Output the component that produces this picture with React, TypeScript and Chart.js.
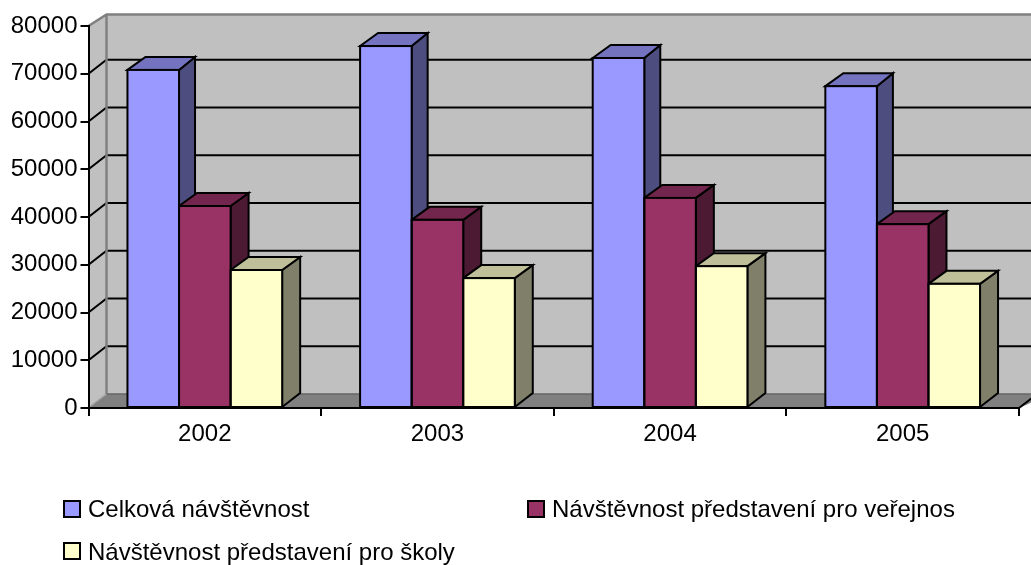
import React, { useEffect, useRef } from "react";
import { Chart, registerables } from "chart.js";

Chart.register(...registerables);

const categories = ["2002", "2003", "2004", "2005"];
const seriesNames = [
  "Celková návštěvnost",
  "Návštěvnost představení pro veřejnos",
  "Návštěvnost představení pro školy",
];
const celkova = [70800, 75800, 73300, 67400];
const verejnost = [42300, 39400, 44000, 38500];
const skoly = [28900, 27200, 29700, 26000];
const fronts = ["#9999FF", "#993366", "#FFFFCC"];
const tops = ["#7373BF", "#73264D", "#BFBF99"];
const sides = ["#4D4D80", "#4D1A33", "#80806A"];
const sideDepth = [16, 18, 18];

const FONT = '"Liberation Sans", Arial, sans-serif';
const DX = 18;
const DY = 14;

const polygon = (ctx: CanvasRenderingContext2D, pts: number[][], fill: string, stroke?: string, lw = 2) => {
  ctx.beginPath();
  pts.forEach(([x, y], i) => (i ? ctx.lineTo(x, y) : ctx.moveTo(x, y)));
  ctx.closePath();
  ctx.fillStyle = fill;
  ctx.fill();
  if (stroke) {
    ctx.strokeStyle = stroke;
    ctx.lineWidth = lw;
    ctx.lineJoin = "miter";
    ctx.stroke();
  }
};

const walls3d = {
  id: "walls3d",
  beforeDraw(chart: any) {
    const { ctx, chartArea: a, scales } = chart;
    const y = scales.y;
    const W = chart.width;
    const backL = a.left + DX;
    const backTop = a.top - 11.5;
    const backBottom = a.bottom - DY;
    ctx.save();
    // back wall
    polygon(ctx, [[backL, backTop], [W + 2, backTop], [W + 2, backBottom], [backL, backBottom]], "#C0C0C0");
    // side wall
    polygon(ctx, [[a.left, a.top], [backL, backTop], [backL, backBottom], [a.left, a.bottom]], "#C0C0C0");
    // gridlines
    ctx.strokeStyle = "#000";
    ctx.lineWidth = 2;
    for (const t of y.ticks) {
      if (t.value === 0 || t.value === y.max) continue;
      const p = y.getPixelForValue(t.value);
      ctx.beginPath();
      ctx.moveTo(a.left, p);
      ctx.lineTo(backL, p - DY);
      ctx.lineTo(W + 2, p - DY);
      ctx.stroke();
    }
    // floor
    polygon(ctx, [[a.left, a.bottom], [backL, backBottom], [W + 20, backBottom], [a.right, a.bottom]], "#808080");
    // wall edges
    ctx.strokeStyle = "#808080";
    ctx.lineWidth = 2.5;
    ctx.beginPath();
    ctx.moveTo(a.left, a.top);
    ctx.lineTo(backL, backTop);
    ctx.lineTo(W + 2, backTop);
    ctx.moveTo(backL, backTop);
    ctx.lineTo(backL, backBottom);
    ctx.stroke();
    ctx.strokeStyle = "#666666";
    ctx.lineWidth = 1.5;
    ctx.beginPath();
    ctx.moveTo(backL, backBottom);
    ctx.lineTo(W + 2, backBottom);
    ctx.stroke();
    ctx.strokeStyle = "#A0A0A0";
    ctx.lineWidth = 1.5;
    ctx.beginPath();
    ctx.moveTo(a.left + 1, a.bottom - 1);
    ctx.lineTo(backL, backBottom);
    ctx.stroke();
    // floor right edge
    ctx.strokeStyle = "#000";
    ctx.lineWidth = 2;
    ctx.beginPath();
    ctx.moveTo(a.right, a.bottom);
    ctx.lineTo(W + 2, a.bottom - (W + 2 - a.right) * (DY / DX));
    ctx.stroke();
    ctx.restore();
  },
  beforeDatasetsDraw(chart: any) {
    const { ctx } = chart;
    ctx.save();
    for (let c = 0; c < categories.length; c++) {
      chart.data.datasets.forEach((_: any, d: number) => {
        const el = chart.getDatasetMeta(d).data[c];
        const l = el.x - el.width / 2;
        const r = el.x + el.width / 2;
        const t = el.y;
        const b = el.base;
        const sd = sideDepth[d];
        polygon(ctx, [[r, t], [r + sd, t - DY + 1], [r + sd, b - DY], [r, b]], sides[d], "#000");
        polygon(ctx, [[l, t], [l + DX, t - DY + 1], [r + sd, t - DY + 1], [r, t]], tops[d], "#000");
      });
    }
    ctx.restore();
  },
  afterDatasetsDraw(chart: any) {
    const { ctx } = chart;
    ctx.save();
    ctx.strokeStyle = "#000";
    ctx.lineWidth = 2;
    chart.data.datasets.forEach((_: any, d: number) => {
      chart.getDatasetMeta(d).data.forEach((el: any) => {
        ctx.strokeRect(el.x - el.width / 2, el.y, el.width, el.base - el.y);
      });
    });
    ctx.restore();
  },
  afterDraw(chart: any) {
    const { ctx } = chart;
    const spots = [
      [64, 501, 88, 510],
      [528, 501, 552, 510],
      [64, 543, 88, 553],
    ];
    ctx.save();
    ctx.font = `24px ${FONT}`;
    ctx.textBaseline = "middle";
    ctx.textAlign = "left";
    chart.data.datasets.forEach((ds: any, d: number) => {
      const [bx, by, tx, ty] = spots[d];
      ctx.fillStyle = fronts[d];
      ctx.strokeStyle = "#000";
      ctx.lineWidth = 2;
      ctx.fillRect(bx, by, 16, 16);
      ctx.strokeRect(bx, by, 16, 16);
      ctx.fillStyle = "#000";
      ctx.fillText(ds.label, tx, ty);
    });
    ctx.restore();
  },
};

export default function App() {
  const ref = useRef<HTMLCanvasElement>(null);
  useEffect(() => {
    if (!ref.current) return;
    const values = [celkova, verejnost, skoly];
    const chart = new Chart(ref.current, {
      type: "bar",
      plugins: [walls3d],
      data: {
        labels: categories,
        datasets: seriesNames.map((label, i) => ({
          label,
          data: values[i],
          backgroundColor: fronts[i],
          borderWidth: 0,
          barPercentage: 1,
          categoryPercentage: 0.665,
        })),
      },
      options: {
        responsive: false,
        animation: false,
        layout: { padding: { top: 26, right: 12, left: 0, bottom: 0 } },
        plugins: { legend: { display: false }, title: { display: false }, tooltip: { enabled: false } },
        scales: {
          x: {
            afterFit: (s: any) => { s.height = 157; },
            grid: { drawOnChartArea: false, color: "#000", lineWidth: 2, tickLength: 8, offset: true },
            border: { color: "#000", width: 2 },
            ticks: { color: "#000", font: { family: FONT, size: 24 }, padding: 4, maxRotation: 0 },
          },
          y: {
            min: 0,
            max: 80000,
            afterFit: (s: any) => { s.width = 88.5; },
            grid: { drawOnChartArea: false, color: "#000", lineWidth: 2, tickLength: 8 },
            border: { color: "#000", width: 2 },
            ticks: {
              stepSize: 10000,
              color: "#000",
              font: { family: FONT, size: 24 },
              padding: 3,
              callback: (v: any) => String(v),
            },
          },
        },
      },
    } as any);
    return () => chart.destroy();
  }, []);
  return (
    <div style={{ position: "absolute", left: 0, top: 0, width: 1031, height: 565, overflow: "hidden", background: "#fff" }}>
      <canvas ref={ref} width={1031} height={565} style={{ display: "block" }} />
    </div>
  );
}
